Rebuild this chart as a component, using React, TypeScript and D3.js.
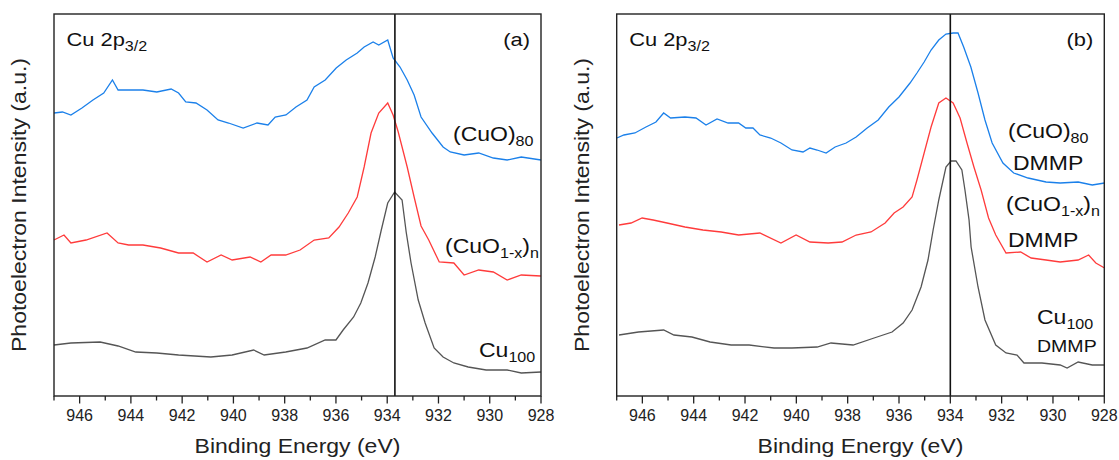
import React from 'react';
import * as d3 from 'd3';

// binding energy (eV), intensity (a.u.)
const cuo80A = [
  [947.0, 283], [946.67, 284], [946.34, 281], [945.91, 288], [945.48, 296], [945.06, 303],
  [944.72, 316], [944.5, 306], [944.09, 306], [943.53, 306], [942.99, 304], [942.43, 307],
  [942.14, 303], [941.86, 294], [941.46, 293], [941.03, 286], [940.6, 276], [940.19, 273],
  [939.62, 268], [939.08, 273], [938.65, 271], [938.37, 279], [937.95, 281], [937.56, 289],
  [937.13, 296], [936.85, 309], [936.42, 316], [935.99, 328], [935.6, 336], [935.17, 343],
  [934.9, 349], [934.55, 354], [934.33, 351], [933.98, 356], [933.77, 338], [933.5, 329],
  [933.22, 316], [932.95, 301], [932.68, 279], [932.25, 263], [931.82, 249], [931.54, 244],
  [931.0, 241], [930.43, 243], [929.86, 238], [929.32, 236], [928.77, 239], [928.0, 236],
];
const cuoxA = [
  [947.0, 156], [946.61, 161], [946.34, 153], [945.75, 156], [944.93, 163], [944.5, 153],
  [944.09, 151], [943.53, 151], [942.84, 148], [942.14, 143], [941.57, 143], [941.03, 134],
  [940.48, 141], [940.05, 136], [939.35, 139], [938.93, 134], [938.53, 141], [937.96, 141],
  [937.4, 146], [936.85, 156], [936.28, 158], [935.88, 169], [935.52, 183], [935.17, 199],
  [934.9, 229], [934.63, 263], [934.33, 283], [933.98, 293], [933.77, 281], [933.57, 264],
  [933.22, 229], [932.95, 199], [932.68, 170], [932.38, 156], [931.97, 134], [931.4, 133],
  [931.0, 121], [930.43, 126], [929.86, 124], [929.32, 116], [928.77, 121], [928.0, 120],
];
const cu100A = [
  [947.0, 51], [946.34, 53], [945.2, 54], [944.5, 50], [943.81, 44], [942.99, 43],
  [942.14, 41], [940.88, 39], [940.05, 41], [939.21, 46], [938.8, 41], [937.96, 44],
  [937.13, 48], [936.42, 56], [936.0, 56], [935.72, 66], [935.31, 79], [935.03, 93],
  [934.75, 113], [934.47, 139], [934.24, 165], [933.98, 193], [933.71, 204], [933.42, 196],
  [933.26, 164], [933.07, 133], [932.79, 96], [932.52, 73], [932.17, 48], [931.82, 39],
  [931.4, 33], [930.84, 29], [930.14, 26], [929.32, 26], [928.77, 23], [928.0, 24],
];

const cuo80B = [
  [946.99, 258], [946.72, 261], [946.29, 263], [945.86, 269], [945.47, 274], [945.17, 283],
  [944.9, 278], [944.34, 279], [943.91, 278], [943.52, 271], [943.09, 277], [942.66, 273],
  [942.25, 273], [941.97, 268], [941.69, 268], [941.42, 261], [941.0, 258], [940.6, 253],
  [940.17, 246], [939.74, 244], [939.47, 248], [939.19, 246], [938.84, 243], [938.49, 249],
  [938.06, 253], [937.67, 259], [937.24, 268], [936.81, 276], [936.4, 289], [936.0, 299],
  [935.57, 313], [935.3, 323], [935.02, 334], [934.75, 346], [934.45, 356], [934.17, 362],
  [933.89, 363], [933.7, 363], [933.48, 349], [933.2, 329], [932.92, 303], [932.65, 276],
  [932.37, 253], [931.95, 233], [931.53, 223], [930.97, 218], [930.27, 214], [929.72, 213],
  [929.02, 214], [928.47, 211], [927.99, 213],
];
const cuoxB = [
  [946.91, 171], [946.44, 173], [946.01, 178], [945.58, 176], [945.04, 173], [944.34, 169],
  [943.64, 166], [942.93, 164], [942.25, 161], [941.42, 163], [940.6, 153], [940.01, 161],
  [939.47, 154], [938.76, 153], [938.22, 154], [937.67, 161], [937.09, 164], [936.54, 173],
  [936.19, 183], [935.84, 189], [935.49, 199], [935.3, 216], [935.02, 243], [934.75, 269],
  [934.45, 293], [934.17, 298], [933.89, 293], [933.62, 278], [933.35, 253], [933.08, 229],
  [932.8, 206], [932.51, 178], [932.23, 161], [931.83, 143], [931.26, 144], [930.85, 138],
  [930.27, 136], [929.72, 134], [929.02, 136], [928.61, 141], [928.33, 133], [927.99, 128],
];
const cu100B = [
  [946.91, 61], [946.15, 64], [945.17, 66], [944.77, 61], [944.07, 59], [943.36, 54],
  [942.54, 51], [941.84, 51], [940.87, 48], [940.17, 48], [939.19, 49], [938.65, 53],
  [937.79, 51], [936.97, 58], [936.27, 64], [935.84, 73], [935.49, 86], [935.14, 109],
  [934.87, 136], [934.67, 166], [934.45, 196], [934.17, 229], [933.97, 235], [933.78, 235],
  [933.55, 226], [933.43, 206], [933.27, 176], [933.19, 149], [932.92, 109], [932.65, 76],
  [932.23, 51], [931.83, 43], [931.4, 41], [931.13, 33], [930.43, 33], [929.72, 31],
  [929.45, 28], [929.02, 34], [928.47, 31], [927.99, 31],
];

const xDomain = [947, 928];
const yDomain = [0, 382];
const tickValues = d3.range(928, 948);
const refLines = [933.7, 934.0];
const tags = ['(a)', '(b)'];

const colors = { cuo: '#1b80ea', cuox: '#ff3b3b', cu: '#555555' };

// label parts: [text, isSubscript]
const labelsA = [
  { x: 453, y: 141, parts: [['(CuO)', false], ['80', true]] },
  { x: 445, y: 253, parts: [['(CuO', false], ['1-x', true], [')', false], ['n', true]] },
  { x: 479, y: 357, parts: [['Cu', false], ['100', true]] },
];
const labelsB = [
  { x: 1008, y: 138, parts: [['(CuO)', false], ['80', true]] },
  { x: 1013, y: 170, parts: [['DMMP', false]] },
  { x: 1006, y: 211, parts: [['(CuO', false], ['1-x', true], [')', false], ['n', true]] },
  { x: 1008, y: 247, parts: [['DMMP', false]] },
  { x: 1037, y: 324, parts: [['Cu', false], ['100', true]] },
  { x: 1037, y: 352, parts: [['DMMP', false]], size: 17 },
];

const FONT = 'Arial, "Liberation Sans", sans-serif';
const TOP = 14;
const BOTTOM = 396;
const WIDE = 1.15; // the figure's lettering is a bit wider than Arial

function Label({ x, y, parts, size = 20 }: any) {
  const spans: any[] = [];
  let shift = 0;
  parts.forEach(([t, sub]: any, i: number) => {
    const target = sub ? 5 : 0;
    spans.push(
      <tspan key={i} dy={target - shift} fontSize={sub ? size * 0.7 : size}>{t}</tspan>
    );
    shift = target;
  });
  return (
    <g transform={`translate(${x},${y}) scale(${WIDE},1)`}>
      <text fontFamily={FONT} fill="#111">{spans}</text>
    </g>
  );
}

function Panel({ left, right, series, labels, refLine, tag }: any) {
  const x = d3.scaleLinear().domain(xDomain).range([left, right]);
  const y = d3.scaleLinear().domain(yDomain).range([BOTTOM, TOP]);
  const line = d3.line<number[]>().x(d => x(d[0])).y(d => y(d[1]));
  const mid = (left + right) / 2;
  return (
    <g>
      {series.map((s: any, i: number) => (
        <path key={i} d={line(s.data) || ''} fill="none" stroke={s.color} strokeWidth={1.3} />
      ))}
      <line x1={x(refLine)} x2={x(refLine)} y1={TOP} y2={BOTTOM} stroke="#111" strokeWidth={1.6} />
      <rect x={left} y={TOP} width={right - left} height={BOTTOM - TOP} fill="none" stroke="#222" strokeWidth={1.4} />
      {tickValues.map(t => (
        <line key={t} x1={x(t)} x2={x(t)} y1={BOTTOM} y2={BOTTOM + (t % 2 === 0 ? 7.5 : 4.5)} stroke="#222" strokeWidth={1.3} />
      ))}
      {tickValues.filter(t => t % 2 === 0).map(t => (
        <text key={t} x={x(t)} y={421} textAnchor="middle" fontFamily={FONT} fontSize={16} fill="#222">{t}</text>
      ))}
      <g transform={`translate(${mid},453) scale(${WIDE},1)`}>
        <text textAnchor="middle" fontFamily={FONT} fontSize={20} fill="#222">Binding Energy (eV)</text>
      </g>
      <g transform={`translate(${left - 28},${(TOP + BOTTOM) / 2}) rotate(-90) scale(${WIDE},1)`}>
        <text textAnchor="middle" fontFamily={FONT} fontSize={20} fill="#222">Photoelectron Intensity (a.u.)</text>
      </g>
      <g transform={`translate(${left + 12.5},46) scale(${WIDE},1)`}>
        <text fontFamily={FONT} fontSize={19} fill="#111">
          Cu 2p<tspan dy={5} fontSize={14}>3/2</tspan>
        </text>
      </g>
      <g transform={`translate(${right - 11},46) scale(${WIDE},1)`}>
        <text textAnchor="end" fontFamily={FONT} fontSize={19} fill="#111">{tag}</text>
      </g>
      {labels.map((l: any, i: number) => <Label key={i} {...l} />)}
    </g>
  );
}

export default function App() {
  return (
    <svg width={1119} height={460} style={{ position: 'absolute', left: 0, top: 0, background: '#fff' }}>
      <Panel
        left={54} right={541}
        series={[
          { data: cuo80A, color: colors.cuo },
          { data: cuoxA, color: colors.cuox },
          { data: cu100A, color: colors.cu },
        ]}
        labels={labelsA} refLine={refLines[0]} tag={tags[0]}
      />
      <Panel
        left={616.7} right={1104.3}
        series={[
          { data: cuo80B, color: colors.cuo },
          { data: cuoxB, color: colors.cuox },
          { data: cu100B, color: colors.cu },
        ]}
        labels={labelsB} refLine={refLines[1]} tag={tags[1]}
      />
    </svg>
  );
}
